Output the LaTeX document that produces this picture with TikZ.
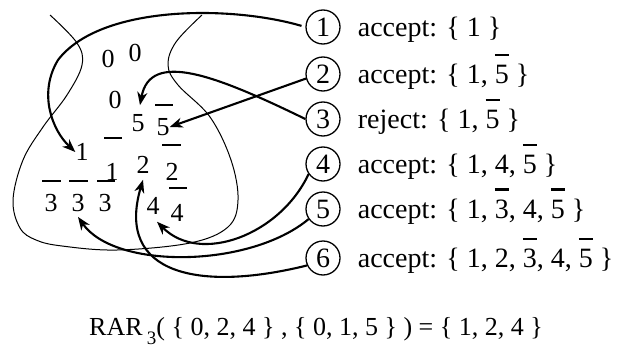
\documentclass[tikz,border=0pt]{standalone}
\usepackage{fontspec}
\setmainfont{Liberation Serif}
\usetikzlibrary{arrows.meta,calc}
% digit with a bar above it
\newcommand\ovl[1]{\leavevmode\setbox0=\hbox{#1}\rlap{\rule[0.98em]{\wd0}{0.075em}}\box0\relax}
\begin{document}
\begin{tikzpicture}[x=1pt,y=1pt,
  every node/.style={inner sep=0pt,font=\fontsize{26}{26}\selectfont},
  loopline/.style={line width=1pt},
  arr/.style={line width=2.1pt,-{Stealth[length=13pt,width=10pt,inset=4pt]}},
  tag/.style={circle,draw,line width=1.3pt,minimum size=34pt,font=\fontsize{28}{28}\selectfont},
  lab/.style={anchor=base west,font=\fontsize{28}{28}\selectfont},
  bar/.style={line width=2.2pt}]
\useasboundingbox (0,0) rectangle (618,-353);

% enclosing loop
\draw[loopline] plot[smooth,tension=0.6] coordinates {(50,-15) (77,-43) (82,-65) (67,-95) (43,-127) (23,-160) (13,-200) (20,-228) (36,-240) (62,-246) (117,-250) (190,-243) (228,-227) (238,-200) (231,-160) (210,-117) (178,-85) (168,-65) (176,-42) (202,-15)};

% literals
\node (z1) at (108,-59) {0};
\node (z2) at (135,-53) {0};
\node (z3) at (115,-100) {0};
\node (f) at (138,-123) {5};
\node (fb) at (163,-127) {5};
\node (o) at (82,-152) {1};
\node (ob) at (112,-172) {1};
\node (w) at (143,-165) {2};
\node (wb) at (172,-172) {2};
\node (ta) at (51,-203) {3};
\node (tb) at (78,-203) {3};
\node (tc) at (105,-203) {3};
\node (r) at (153,-206) {4};
\node (rb) at (177,-213) {4};

% negation bars
\draw[bar] (155,-105) -- (173,-105);
\draw[bar] (104,-138) -- (122,-138);
\draw[bar] (162,-145) -- (181,-145);
\draw[bar] (42,-181) -- (61,-181);
\draw[bar] (69,-181) -- (88,-181);
\draw[bar] (97,-181) -- (115,-181);
\draw[bar] (169,-188) -- (187,-188);

% numbered steps
\node[tag] (c1) at (323,-27) {1};
\node[tag] (c2) at (323,-74) {2};
\node[tag] (c3) at (323,-119) {3};
\node[tag] (c4) at (323,-164) {4};
\node[tag] (c5) at (323,-209) {5};
\node[tag] (c6) at (323,-258) {6};

\node[lab] (t1) at ($(c1.east |- c1.base)+(17,0)$) {accept: \{ 1 \}};
\node[lab] (t2) at ($(c2.east |- c2.base)+(17,0)$) {accept: \{ 1, \ovl{5} \}};
\node[lab] (t3) at ($(c3.east |- c3.base)+(17,0)$) {reject: \{ 1, \ovl{5} \}};
\node[lab] (t4) at ($(c4.east |- c4.base)+(17,0)$) {accept: \{ 1, 4, \ovl{5} \}};
\node[lab] (t5) at ($(c5.east |- c5.base)+(17,0)$) {accept: \{ 1, \ovl{3}, 4, \ovl{5} \}};
\node[lab] (t6) at ($(c6.east |- c6.base)+(17,0)$) {accept: \{ 1, 2, \ovl{3}, 4, \ovl{5} \}};

% arrows from steps to literals
\draw[arr,shorten <=4pt] (c1.west) .. controls (230,-5) and (100,-5) .. (58,-60)
  .. controls (38,-93) and (52,-130) .. (o.west);
\draw[arr] (c2.195) -- (fb.east);
\draw[arr] (c3.west) .. controls (215,-75) and (150,-50) .. ([xshift=2pt,yshift=9pt]f.north);
\draw[arr] (c4.215) .. controls (280,-235) and (200,-265) .. ([shift={(4pt,-7pt)}]r.south);
\draw[arr] (c5.215) .. controls (250,-268) and (115,-270) .. ([yshift=-5pt]tb.south);
\draw[arr] (c6.205) .. controls (200,-292) and (115,-275) .. ([yshift=-6pt]w.south);

% result
\node[anchor=base] (rar) at (316,-335) {RAR\,\raisebox{-9pt}{\fontsize{19}{19}\selectfont 3}( \{ 0, 2, 4 \} , \{ 0, 1, 5 \} ) = \{ 1, 2, 4 \}};
\end{tikzpicture}
\end{document}
